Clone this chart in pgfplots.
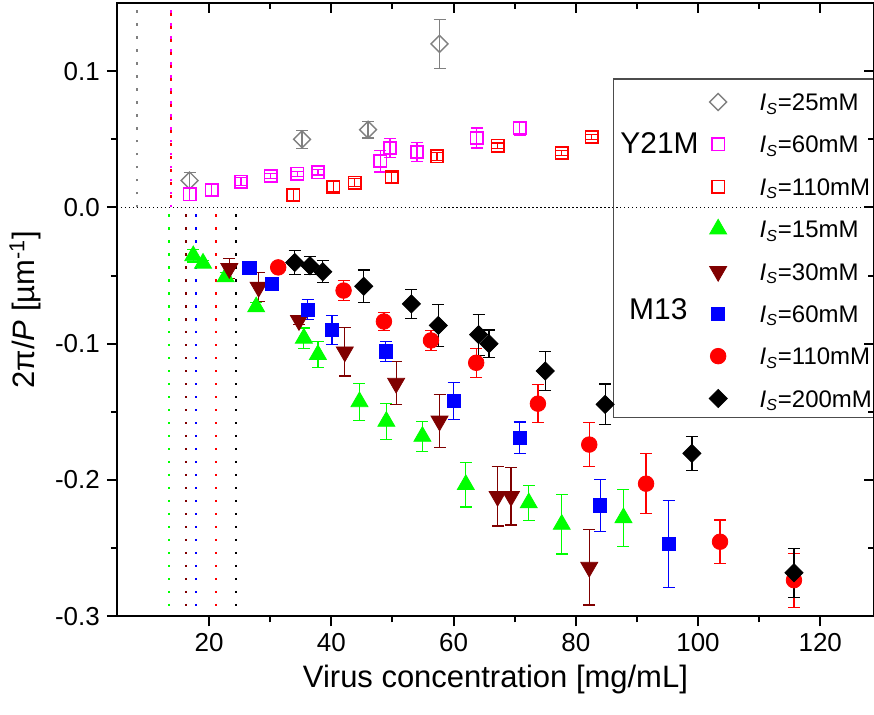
\documentclass[border=0pt]{standalone}
\usepackage{fontspec}
\setmainfont{Liberation Sans}
\usepackage{pgfplots}
\pgfplotsset{compat=1.18}

\definecolor{cgray}{HTML}{808080}
\definecolor{cmag}{HTML}{FF00FF}
\definecolor{cred}{HTML}{FF0000}
\definecolor{cgreen}{HTML}{00FF00}
\definecolor{cmaroon}{HTML}{800000}
\definecolor{cblue}{HTML}{0000FF}

\newcommand{\IS}[1]{\textit{I}\textsubscript{\textit{S}}=#1}

\pgfplotsset{
  frame/.style={
    scale only axis, width=379pt, height=307pt,
    xmin=4.9, xmax=128.8, ymin=-0.3, ymax=0.15,
    xtick={20,40,60,80,100,120}, ytick={-0.3,-0.2,-0.1,0,0.1},
    minor x tick num=1, minor y tick num=1,
    major tick length=5pt, minor tick length=3pt,
    axis line style={line width=1pt},
    every tick/.style={black, line width=1pt},
  },
  eb/.style={error bars/.cd, y dir=both, y explicit,
    error mark options={rotate=90, mark size=3pt, line width=0.6pt, #1},
    error bar style={line width=0.6pt, #1}},
  vline/.style={forget plot, #1, line width=1pt, dash pattern=on 1.2pt off 5.3pt},
}

\begin{document}
\begin{tikzpicture}
\begin{axis}[
  frame, name=main,
  xtick pos=left, ytick pos=left, tick align=outside,
  yticklabel style={/pgf/number format/.cd, fixed, fixed zerofill, precision=1, assume math mode=true},
  xticklabel style={/pgf/number format/assume math mode=true},
  tick label style={font=\fontsize{13}{15}\selectfont},
  label style={font=\fontsize{15.5}{18}\selectfont},
  xlabel={Virus concentration [mg/mL]},
  ylabel={2π/\textit{P} [µm\textsuperscript{-1}]},
  legend style={draw=none, fill=none, at={(rel axis cs:0.7817,0.861)}, anchor=north west,
    inner xsep=0pt, inner ysep=0pt, row sep=7.8pt, column sep=16.25pt,
    nodes={inner sep=0pt, text height=11pt, text depth=2.4pt, font=\fontsize{12}{14}\selectfont}},
  legend cell align=left,
]
% reference lines
\addplot[forget plot, black, line width=0.5pt, dash pattern=on 0.6pt off 1.4pt] coordinates {(4.9,0) (128.8,0)};
\addplot[vline=cgray] coordinates {(8.26,0) (8.26,0.15)};
\addplot[vline=cmag] coordinates {(13.8,0) (13.8,0.15)};
\addplot[vline=cred, dash phase=1.6pt] coordinates {(13.75,0) (13.75,0.15)};
\addplot[vline=cgreen] coordinates {(13.4,-0.005) (13.4,-0.3)};
\addplot[vline=cmaroon] coordinates {(16.2,-0.005) (16.2,-0.3)};
\addplot[vline=cblue] coordinates {(17.9,-0.005) (17.9,-0.3)};
\addplot[vline=cred] coordinates {(21.1,-0.005) (21.1,-0.3)};
\addplot[vline=black] coordinates {(24.4,-0.005) (24.4,-0.3)};

% Y21M, 25 mM
\addplot[only marks, mark=square, mark size=3pt, mark options={rotate=45, draw=cgray, line width=0.7pt, fill=white}, eb=cgray]
  table[x=x, y=y, y error=e] {
x y e
16.8 0.0197 0.006
35.2 0.050 0.0066
46.0 0.057 0.006
57.7 0.120 0.018
};
% Y21M, 60 mM
\addplot[only marks, mark=square, mark size=3.1pt, mark options={draw=cmag, line width=0.8pt}, eb=cmag]
  table[x=x, y=y, y error=e] {
x y e
16.8 0.0095 0.0044
20.4 0.013 0.004
25.2 0.0188 0.003
30.1 0.023 0.002
34.4 0.0246 0.002
37.8 0.0258 0.002
48.0 0.034 0.008
49.6 0.0436 0.0068
54.0 0.0406 0.0068
63.8 0.0509 0.0073
70.8 0.0582 0.005
};
% Y21M, 110 mM
\addplot[only marks, mark=square, mark size=3.1pt, mark options={draw=cred, line width=0.8pt}, eb=cred]
  table[x=x, y=y, y error=e] {
x y e
33.8 0.009 0.004
40.3 0.0153 0.004
43.8 0.0182 0.003
49.9 0.022 0.004
57.3 0.0375 0.003
67.2 0.0453 0.002
77.7 0.040 0.002
82.6 0.0516 0.002
};
% M13, 15 mM
\addplot[only marks, mark=triangle*, mark size=4.9pt, mark options={draw=cgreen, fill=cgreen}, eb=cgreen]
  table[x=x, y=y, y error=e] {
x y e
17.4 -0.0355 0.0046
19.0 -0.041 0.002
22.7 -0.051 0.003
27.7 -0.073 0.003
35.5 -0.096 0.0075
37.8 -0.108 0.0095
44.6 -0.1426 0.0136
49.0 -0.157 0.013
54.9 -0.168 0.011
62.0 -0.2034 0.0164
72.3 -0.2168 0.0127
77.7 -0.2326 0.0217
87.8 -0.2277 0.021
};
% M13, 30 mM
\addplot[only marks, mark=triangle*, mark size=4.9pt, mark options={rotate=180, draw=cmaroon, fill=cmaroon}, eb=cmaroon]
  table[x=x, y=y, y error=e] {
x y e
23.3 -0.0448 0.0075
28.1 -0.0586 0.0106
34.7 -0.083 0.003
42.2 -0.106 0.0177
50.6 -0.129 0.0158
57.7 -0.1567 0.0195
67.2 -0.212 0.0218
69.4 -0.212 0.021
82.2 -0.264 0.0277
};
% M13, 60 mM
\addplot[only marks, mark=square*, mark size=3.3pt, mark options={draw=cblue, fill=cblue}, eb=cblue]
  table[x=x, y=y, y error=e] {
x y e
26.6 -0.0445 0.002
30.3 -0.0562 0.002
36.1 -0.075 0.0073
40.1 -0.0898 0.0107
48.9 -0.1056 0.0073
60.0 -0.142 0.0134
70.8 -0.1689 0.0114
84.0 -0.2187 0.019
95.2 -0.247 0.032
};
% M13, 110 mM
\addplot[only marks, mark=*, mark size=3.9pt, mark options={draw=cred, fill=cred}, eb=cred]
  table[x=x, y=y, y error=e] {
x y e
31.3 -0.044 0.002
42.0 -0.061 0.0073
48.6 -0.0837 0.0067
56.3 -0.0976 0.0073
63.7 -0.114 0.0105
73.8 -0.144 0.0138
82.2 -0.174 0.0163
91.5 -0.2027 0.0219
103.6 -0.2453 0.016
115.7 -0.2735 0.0198
};
% M13, 200 mM
\addplot[only marks, mark=square*, mark size=3.2pt, mark options={rotate=45, draw=black, fill=black}, eb=black]
  table[x=x, y=y, y error=e] {
x y e
34.0 -0.0404 0.0088
36.5 -0.0428 0.0066
38.6 -0.0472 0.008
45.3 -0.0579 0.012
53.1 -0.0708 0.0106
57.5 -0.0866 0.0153
64.1 -0.0934 0.015
65.8 -0.100 0.010
75.0 -0.120 0.0145
84.8 -0.1445 0.015
99.0 -0.1805 0.0127
115.7 -0.268 0.018
};
\legend{\IS{25mM}, \IS{60mM}, \IS{110mM}, \IS{15mM}, \IS{30mM}, \IS{60mM}, \IS{110mM}, \IS{200mM}}

\draw[black!70, line width=0.6pt] (axis cs:86.15,-0.154) rectangle (axis cs:128.8,0.0942);
\node[font=\fontsize{15}{18}\selectfont] at (axis cs:93.7,0.0474) {Y21M};
\node[font=\fontsize{15}{18}\selectfont] at (axis cs:93.5,-0.0745) {M13};
\end{axis}
\begin{axis}[
  frame,
  xtick pos=right, ytick pos=right, tick align=inside,
  xticklabels={}, yticklabels={},
]
\end{axis}
\pgfresetboundingbox
\path[use as bounding box] ([xshift=-58.5pt,yshift=-49pt]main.south west) rectangle ([yshift=1.5pt]main.north east);
\end{tikzpicture}
\end{document}
